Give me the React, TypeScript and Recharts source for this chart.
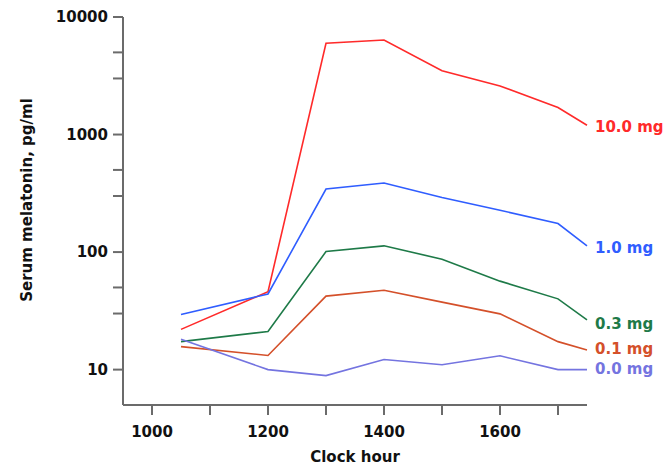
import { LineChart, Line, XAxis, YAxis, Label } from 'recharts';

const hours = [1050, 1200, 1300, 1400, 1500, 1600, 1700, 1750];

const dose10 = [22, 46, 5975, 6380, 3490, 2590, 1700, 1200];
const dose1 = [29.4, 44, 344, 387, 291, 227, 175, 113];
const dose03 = [17.3, 21.1, 101, 113, 87, 56.6, 40, 26.5];
const dose01 = [15.7, 13.2, 42.2, 47.4, 37.5, 29.8, 17.3, 14.7];
const dose00 = [18.1, 10, 8.9, 12.2, 11, 13.1, 10, 10];

const xTicks = [1000, 1100, 1200, 1300, 1400, 1500, 1600, 1700];
const yTicks = [10, 30, 50, 100, 300, 500, 1000, 3000, 5000, 10000];

const series = [
  { key: 'd10', name: '10.0 mg', values: dose10, color: '#ff2a2a', dy: 2 },
  { key: 'd1', name: '1.0 mg', values: dose1, color: '#2f5dff', dy: 2 },
  { key: 'd03', name: '0.3 mg', values: dose03, color: '#1e7a48', dy: 4 },
  { key: 'd01', name: '0.1 mg', values: dose01, color: '#d4502a', dy: -1 },
  { key: 'd00', name: '0.0 mg', values: dose00, color: '#7474e0', dy: -1 },
];

const data = hours.map((h, i) => {
  const row: Record<string, number> = { hour: h };
  series.forEach((s) => {
    row[s.key] = s.values[i];
  });
  return row;
});

const font = 'Verdana, "DejaVu Sans", sans-serif';
const axisColor = '#6b6b6b';
const fs = 15;

export default function App() {
  const last = hours.length - 1;
  return (
    <div style={{ position: 'absolute', left: 0, top: 0, background: '#fff' }}>
      <LineChart
        width={672}
        height={466}
        data={data}
        margin={{ top: 17, right: 85, bottom: 0, left: 0 }}
      >
        <XAxis
          dataKey="hour"
          type="number"
          domain={[950, 1750]}
          ticks={xTicks}
          tickFormatter={(v: number) => (v % 200 === 0 ? String(v) : '')}
          height={61}
          tickSize={10}
          tickMargin={11}
          stroke={axisColor}
          strokeWidth={2}
          tick={{ fill: '#111', fontSize: fs, fontWeight: 'bold', fontFamily: font }}
        >
          <Label
            value="Clock hour"
            position="insideBottom"
            offset={4}
            style={{ fill: '#111', fontSize: fs, fontWeight: 'bold', fontFamily: font }}
          />
        </XAxis>
        <YAxis
          type="number"
          scale="log"
          domain={[5, 10000]}
          allowDataOverflow
          ticks={yTicks}
          tickFormatter={(v: number) => ([10, 100, 1000, 10000].includes(v) ? String(v) : '')}
          width={123}
          tickSize={10}
          tickMargin={5}
          stroke={axisColor}
          strokeWidth={2}
          tick={{ fill: '#111', fontSize: fs, fontWeight: 'bold', fontFamily: font }}
        >
          <Label
            content={() => (
              <text
                x={27}
                y={200}
                transform="rotate(-90 27 200)"
                textAnchor="middle"
                dy="0.35em"
                fill="#111"
                fontSize={fs}
                fontWeight="bold"
                fontFamily={font}
              >
                Serum melatonin, pg/ml
              </text>
            )}
          />
        </YAxis>
        {series.map((s) => (
          <Line
            key={s.key}
            dataKey={s.key}
            name={s.name}
            stroke={s.color}
            strokeWidth={1.6}
            dot={false}
            activeDot={false}
            isAnimationActive={false}
            label={(props: any) =>
              props.index === last ? (
                <text
                  key={`lbl-${s.key}`}
                  x={props.x + 8}
                  y={props.y + s.dy}
                  dy="0.35em"
                  fill={s.color}
                  fontSize={fs}
                  fontWeight="bold"
                  fontFamily={font}
                >
                  {s.name}
                </text>
              ) : (
                <g key={`lbl-${s.key}-${props.index}`} />
              )
            }
          />
        ))}
      </LineChart>
    </div>
  );
}
